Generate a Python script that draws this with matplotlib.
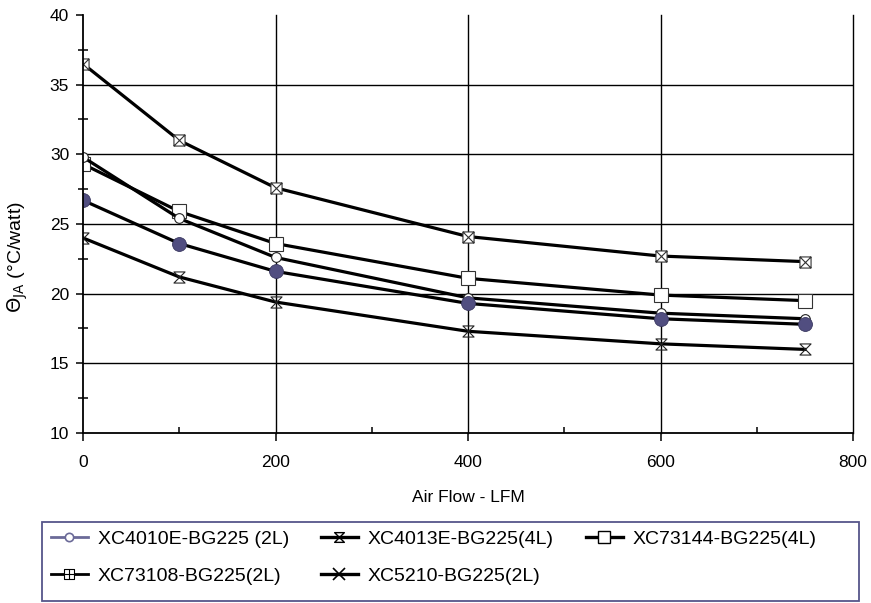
import matplotlib
matplotlib.use("Agg")
import matplotlib.pyplot as plt
from matplotlib.lines import Line2D
from matplotlib.patches import Rectangle
from matplotlib.path import Path
from matplotlib.ticker import MultipleLocator

plt.rcParams["font.family"] = ["Liberation Sans", "DejaVu Sans"]

airflow = [0, 100, 200, 400, 600, 750]
xc73108_2l = [36.5, 31.0, 27.6, 24.1, 22.7, 22.3]
xc73144_4l = [29.3, 25.9, 23.6, 21.1, 19.9, 19.5]
xc4013e_4l = [29.8, 25.4, 22.6, 19.7, 18.6, 18.2]
xc4010e_2l = [26.7, 23.6, 21.6, 19.3, 18.2, 17.8]
xc5210_2l = [24.0, 21.2, 19.4, 17.3, 16.4, 16.0]

labels = ["XC4010E-BG225 (2L)", "XC4013E-BG225(4L)", "XC73144-BG225(4L)",
          "XC73108-BG225(2L)", "XC5210-BG225(2L)"]

# custom marker shapes
M, L, C = Path.MOVETO, Path.LINETO, Path.CLOSEPOLY
sq = [(-1, -1), (1, -1), (1, 1), (-1, 1), (-1, -1)]
sq_codes = [M, L, L, L, C]
box_x = Path(sq + [(-1, -1), (1, 1), (-1, 1), (1, -1)],
             sq_codes + [M, L, M, L])
box_plus = Path(sq + [(-1, 0), (1, 0), (0, -1), (0, 1)],
                sq_codes + [M, L, M, L])
hourglass = Path([(-1, 1), (1, 1), (-1, -1), (1, -1), (-1, 1)],
                 [M, L, L, L, C])

fig = plt.figure(figsize=(8.71, 6.03), dpi=100)
ax = fig.add_axes([83 / 871, 1 - 433 / 603, 770 / 871, 418 / 603])

lw = 2.3
for yv in (15, 20, 25, 30, 35):
    ax.axhline(yv, color="black", lw=1.0, zorder=1)
for xv in (200, 400, 600, 800):
    ax.axvline(xv, color="black", lw=1.0, zorder=1, clip_on=False)

ax.plot(airflow, xc73108_2l, color="black", lw=lw, marker=box_x, ms=8,
        mfc="white", mec="#333333", mew=0.8, zorder=3)
ax.plot(airflow, xc73144_4l, color="black", lw=lw, marker="s", ms=10,
        mfc="white", mec="#333333", mew=0.8, zorder=3)
ax.plot(airflow, xc4013e_4l, color="black", lw=lw, marker="o", ms=7,
        mfc="white", mec="#222222", mew=0.8, zorder=3)
ax.plot(airflow, xc4010e_2l, color="black", lw=lw, marker="o", ms=10,
        mfc="#514e80", mec="#3a3860", mew=0.6, zorder=3)
ax.plot(airflow, xc5210_2l, color="black", lw=lw, marker=hourglass, ms=8,
        mfc="none", mec="#222222", mew=0.8, zorder=3)

ax.set_xlim(0, 800)
ax.set_ylim(10, 40)
ax.xaxis.set_major_locator(MultipleLocator(200))
ax.xaxis.set_minor_locator(MultipleLocator(100))
ax.yaxis.set_major_locator(MultipleLocator(5))
ax.yaxis.set_minor_locator(MultipleLocator(2.5))

ax.spines["top"].set_visible(False)
ax.spines["right"].set_visible(False)
for s in ("left", "bottom"):
    ax.spines[s].set_linewidth(1.3)
    ax.spines[s].set_zorder(4)

ax.tick_params(axis="y", which="major", direction="out", length=5, width=1.1,
               labelsize=12.5, pad=5)
ax.tick_params(axis="y", which="minor", direction="inout", length=7, width=1.1)
ax.tick_params(axis="x", which="major", direction="out", length=6, width=1.1,
               labelsize=12.5, pad=10)
ax.tick_params(axis="x", which="minor", direction="in", length=4, width=1.1)

ax.set_xlabel("Air Flow - LFM", fontsize=12.5, labelpad=14)
ax.set_ylabel(r"$\Theta_{\mathrm{JA}}$ (°C/watt)", fontsize=14)
ax.yaxis.set_label_coords(30 / 871, 1 - 257 / 603, transform=fig.transFigure)

handles = [
    Line2D([], [], color="#6b6a98", lw=2, marker="o", ms=6, mfc="white",
           mec="#6b6a98", mew=1.2),
    Line2D([], [], color="black", lw=2, marker=box_plus, ms=7, mfc="white",
           mec="black", mew=0.8),
    Line2D([], [], color="black", lw=2.4, marker=hourglass, ms=7, mfc="none",
           mec="black", mew=1.0),
    Line2D([], [], color="black", lw=2.4, marker="x", ms=8, mec="black", mew=1.2),
    Line2D([], [], color="black", lw=2.4, marker="s", ms=8, mfc="white",
           mec="black", mew=1.0),
]
order = [labels[0], labels[3], labels[1], labels[4], labels[2]]
leg = fig.legend(handles, order, ncol=3, loc="upper left",
                 bbox_to_anchor=(51 / 871, 1 - 530 / 603),
                 borderaxespad=0, borderpad=0, frameon=False, fontsize=14,
                 handlelength=1.9, handletextpad=0.5, labelspacing=1.0,
                 columnspacing=1.65)
fig.patches.append(Rectangle((42 / 871, 1 - 601 / 603), 817 / 871, 79 / 603,
                             transform=fig.transFigure, fill=False,
                             edgecolor="#56558a", lw=1.3))

fig.savefig("out.png", dpi=100, facecolor="white")
plt.close(fig)
